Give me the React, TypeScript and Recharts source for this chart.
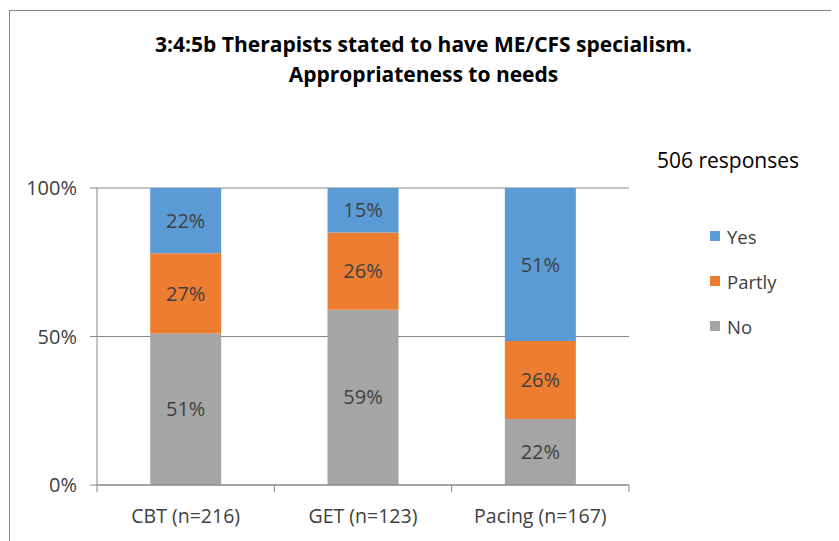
import React from "react";
import { BarChart, Bar, XAxis, YAxis, CartesianGrid, LabelList } from "recharts";

const categories = ["CBT (n=216)", "GET (n=123)", "Pacing (n=167)"];
const noValues = [51, 59, 22];
const partlyValues = [27, 26, 26];
const yesValues = [22, 15, 51];
const yTicks = [0, 0.5, 1];

const FONT = "'Open Sans', sans-serif";
const TEXT = "#404040";
const AXIS = "#868686";

const W = 831;
const H = 533;
const MARGIN = { top: 180, right: 210, bottom: 16, left: 29 };
const Y_AXIS_W = 60;
const X_AXIS_H = 40;

const data = categories.map((name, i) => ({
  name,
  No: noValues[i],
  Partly: partlyValues[i],
  Yes: yesValues[i],
}));

const legendItems = [
  { name: "Yes", color: "#5B9BD5" },
  { name: "Partly", color: "#ED7D31" },
  { name: "No", color: "#A5A5A5" },
];

const pct = (v: number) => `${v}%`;

export default function App() {
  const plotLeft = MARGIN.left + Y_AXIS_W;
  const plotRight = W - MARGIN.right;
  const plotBottom = H - MARGIN.bottom - X_AXIS_H;
  const step = (plotRight - plotLeft) / categories.length;

  return (
    <div style={{ position: "relative", width: W, height: H, overflow: "hidden", fontFamily: FONT }}>
      <div style={{ position: "absolute", left: 1, top: 2, width: 900, height: 600, border: `1px solid ${AXIS}` }} />
      <div
        style={{
          position: "absolute",
          left: 0,
          width: W,
          top: 21,
          textAlign: "center",
          fontWeight: 700,
          fontSize: 21,
          lineHeight: "30px",
          color: "#000",
        }}
      >
        3:4:5b Therapists stated to have ME/CFS specialism.
        <br />
        Appropriateness to needs
      </div>

      <BarChart width={W} height={H} data={data} stackOffset="expand" margin={MARGIN} barCategoryGap="30%">
        <CartesianGrid vertical={false} stroke={AXIS} strokeWidth={1} />
        <XAxis
          dataKey="name"
          height={X_AXIS_H}
          stroke={AXIS}
          tickLine={false}
          tick={{ fill: TEXT, fontSize: 19.5, fontFamily: FONT }}
          tickMargin={18}
        />
        <YAxis
          width={Y_AXIS_W}
          domain={[0, 1]}
          ticks={yTicks}
          stroke={AXIS}
          tickSize={7}
          tickMargin={13}
          tickFormatter={(v: number) => `${Math.round(v * 100)}%`}
          tick={{ fill: TEXT, fontSize: 20, fontFamily: FONT }}
        />
        <Bar dataKey="No" stackId="a" fill="#A5A5A5" isAnimationActive={false}>
          <LabelList dataKey="No" position="center" formatter={pct} fill={TEXT} fontSize={20} fontFamily={FONT} />
        </Bar>
        <Bar dataKey="Partly" stackId="a" fill="#ED7D31" isAnimationActive={false}>
          <LabelList dataKey="Partly" position="center" formatter={pct} fill={TEXT} fontSize={20} fontFamily={FONT} />
        </Bar>
        <Bar dataKey="Yes" stackId="a" fill="#5B9BD5" isAnimationActive={false}>
          <LabelList dataKey="Yes" position="center" formatter={pct} fill={TEXT} fontSize={20} fontFamily={FONT} />
        </Bar>
      </BarChart>

      <svg width={W} height={H} style={{ position: "absolute", left: 0, top: 0, pointerEvents: "none" }}>
        {categories.map((_, i) => i).concat(categories.length).map((i) => (
          <line
            key={i}
            x1={plotLeft + i * step}
            x2={plotLeft + i * step}
            y1={plotBottom}
            y2={plotBottom + 7}
            stroke={AXIS}
            strokeWidth={1}
          />
        ))}
      </svg>

      <div style={{ position: "absolute", left: 649, top: 138, fontSize: 21, color: "#000" }}>506 responses</div>
      {legendItems.map((item, i) => (
        <div
          key={item.name}
          style={{
            position: "absolute",
            left: 702,
            top: 216 + i * 45,
            height: 24,
            display: "flex",
            alignItems: "center",
            fontSize: 18.5,
            color: TEXT,
          }}
        >
          <span style={{ display: "inline-block", width: 10, height: 10, background: item.color, marginRight: 7 }} />
          {item.name}
        </div>
      ))}
    </div>
  );
}
